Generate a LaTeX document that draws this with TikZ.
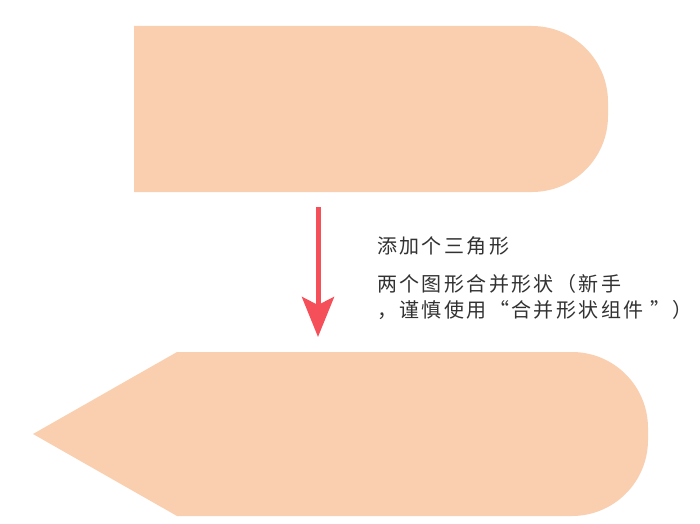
\documentclass[tikz,border=0pt]{standalone}
\usepackage{fontspec}
\usetikzlibrary{arrows.meta}
\newfontfamily\cjk[LetterSpace=12]{Noto Sans CJK SC}
\definecolor{peach}{RGB}{250,207,176}
\definecolor{arrowred}{RGB}{245,80,90}
\definecolor{notegray}{RGB}{50,50,50}
\tikzset{
  peachshape/.style={fill=peach},
  redarrow/.style={draw=arrowred,line width=5pt,
    -{Stealth[length=40pt,width=32pt,inset=8pt,fill=arrowred]}},
  note/.style={anchor=west,inner sep=0pt,text=notegray,
    font=\cjk\fontsize{20pt}{24pt}\selectfont}
}
\begin{document}
\begin{tikzpicture}[x=1pt,y=1pt]
   \useasboundingbox (0,0) rectangle (700,523);
   % rounded rectangle before merging
   \fill[peachshape] (134,497) -- (532,497)
   arc[start angle=90,end angle=0,radius=76pt] -- (608,407)
   arc[start angle=0,end angle=-90,radius=76pt] -- (134,331) -- cycle;

   % merged shape with the triangle
   \fill[peachshape] (33,89) -- (177,171) -- (572,171)
   arc[start angle=90,end angle=0,radius=76pt] -- (648,83)
   arc[start angle=0,end angle=-90,radius=76pt] -- (177,7) -- cycle;

   \coordinate (arrowtop) at (318,316);
   \coordinate (arrowtip) at (318,186);
   \draw[redarrow] (arrowtop) -- (arrowtip);

   \node[note] (addtri) at (377,277) {添加个三角形};
   \node[note] (mergeA) at (377,239) {两个图形合并形状（新手};
   \node[note] (mergeB) at (377,213) {，谨慎使用“合并形状组件 ”）};
 \end{tikzpicture}
\end{document}
